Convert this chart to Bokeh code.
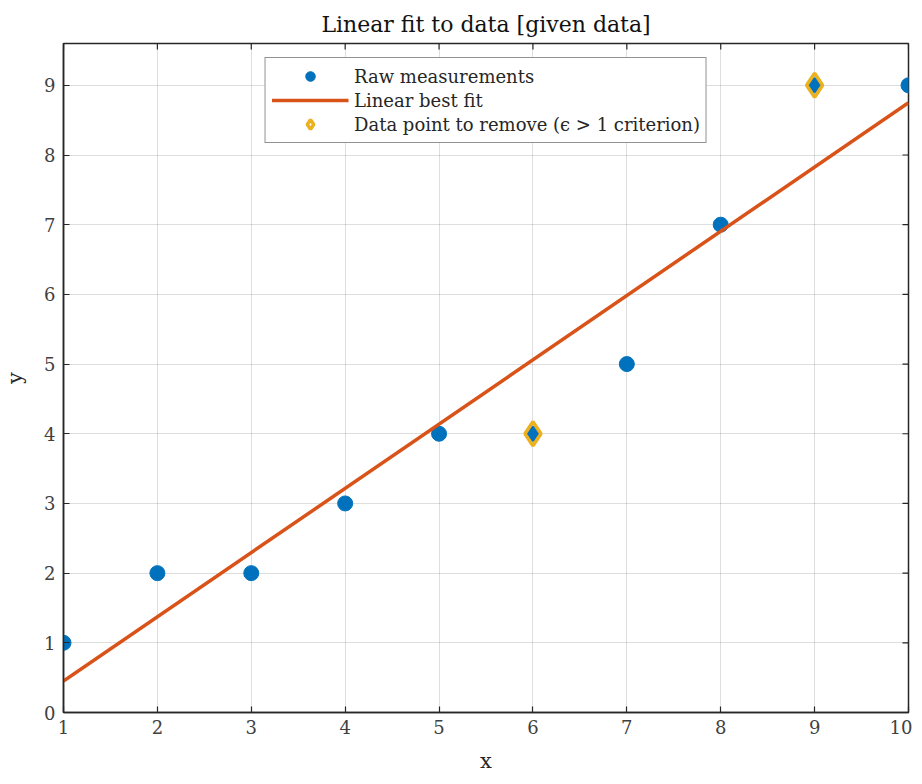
import math
from bokeh.plotting import figure
from bokeh.models import Range1d, FixedTicker, Legend, LegendItem
from bokeh.embed import file_html
from bokeh.resources import INLINE

# data
x_raw = [1, 2, 3, 4, 5, 6, 7, 8, 9, 10]
y_raw = [1, 2, 2, 3, 4, 4, 5, 7, 9, 9]
fit_x = [1, 10]
fit_y = [0.45, 8.75]
remove_x = [6, 9]
remove_y = [4, 9]
x_ticks = [1, 2, 3, 4, 5, 6, 7, 8, 9, 10]
y_ticks = [0, 1, 2, 3, 4, 5, 6, 7, 8, 9]
X_MIN, X_MAX = 1, 10
Y_MIN, Y_MAX = 0, 9.6

FONT = "DejaVu Serif"
AX = "#262626"

p = figure(width=912, height=782, output_backend="svg", toolbar_location=None,
           x_range=Range1d(X_MIN, X_MAX), y_range=Range1d(Y_MIN, Y_MAX),
           min_border_left=55, min_border_right=4, min_border_top=43, min_border_bottom=70,
           title="Linear fit to data [given data]")
p.title.align = "center"
p.title.text_font = FONT
p.title.text_font_size = "22px"
p.title.text_font_style = "normal"
p.title.text_color = "#111111"
p.title.standoff = 14
p.outline_line_color = AX
p.outline_line_width = 1.5
p.background_fill_color = "white"
p.border_fill_color = "white"

for ax in (p.xaxis[0], p.yaxis[0]):
    ax.major_label_text_font = FONT
    ax.major_label_text_font_size = "18px"
    ax.major_label_text_color = "#404040"
    ax.axis_line_color = AX
    ax.axis_line_width = 1.5
    ax.major_tick_line_color = AX
    ax.major_tick_line_width = 1.2
    ax.major_tick_in = 6
    ax.major_tick_out = 0
    ax.minor_tick_line_color = None
    ax.axis_label_text_font = FONT
    ax.axis_label_text_font_size = "21px"
    ax.axis_label_text_font_style = "normal"
    ax.axis_label_text_color = "#262626"
p.xaxis[0].ticker = FixedTicker(ticks=x_ticks)
p.yaxis[0].ticker = FixedTicker(ticks=y_ticks)
p.xaxis[0].axis_label = "x"
p.yaxis[0].axis_label = "y"
p.xaxis[0].major_label_standoff = 7
p.yaxis[0].major_label_standoff = 8
p.xaxis[0].axis_label_standoff = 12
p.yaxis[0].axis_label_standoff = 14

p.xgrid.ticker = FixedTicker(ticks=x_ticks)
p.ygrid.ticker = FixedTicker(ticks=y_ticks)
p.grid.grid_line_color = "#000000"
p.grid.grid_line_alpha = 0.13

# box ticks on top and right edges
p.ray(x=x_ticks, y=[Y_MAX] * len(x_ticks), length=6, length_units="screen",
      angle=-math.pi / 2, line_color=AX, line_width=1.2)
p.ray(x=[X_MAX] * len(y_ticks), y=y_ticks, length=6, length_units="screen",
      angle=math.pi, line_color=AX, line_width=1.2)

r_raw = p.scatter(x_raw, y_raw, size=15, color="#0072BD", marker="circle")
r_fit = p.line(fit_x, fit_y, line_color="#D95319", line_width=3.5)
r_rem = p.scatter(remove_x, remove_y, size=24, marker="diamond", fill_color=None,
                  line_color="#EDB120", line_width=3.5)

legend = Legend(items=[
    LegendItem(label="Raw measurements", renderers=[r_raw]),
    LegendItem(label="Linear best fit", renderers=[r_fit]),
    LegendItem(label="Data point to remove (\u03f5 > 1 criterion)", renderers=[r_rem]),
], location="top_center")
legend.label_text_font = FONT
legend.label_text_font_size = "18px"
legend.label_text_color = "#262626"
legend.glyph_width = 77
legend.glyph_height = 24
legend.label_height = 24
legend.spacing = 0
legend.padding = 6
legend.margin = 14
legend.label_standoff = 6
legend.border_line_color = AX
legend.border_line_width = 1.5
legend.background_fill_color = "white"
legend.background_fill_alpha = 1.0
p.add_layout(legend, "center")

open("out.html", "w").write(file_html(p, INLINE))
